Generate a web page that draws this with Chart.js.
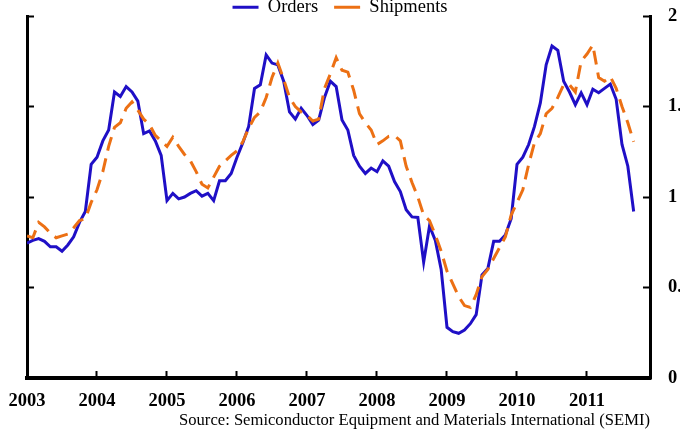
<!DOCTYPE html>
<html>
<head>
<meta charset="utf-8">
<script src="https://cdn.jsdelivr.net/npm/chart.js@4.4.1/dist/chart.umd.min.js"></script>
<style>
  html, body { margin: 0; padding: 0; background: #fff; }
  canvas { display: block; }
</style>
</head>
<body>
<canvas id="semi-chart" width="680" height="433"></canvas>
<script>
// monthly values, starting January 2003
const startYear = 2003;
const orders = [
  0.745, 0.76, 0.77, 0.755, 0.725, 0.725, 0.70, 0.735, 0.78, 0.86, 0.92, 1.18,
  1.22, 1.31, 1.37, 1.58, 1.555, 1.61, 1.58, 1.53, 1.35, 1.365, 1.31, 1.23,
  0.98, 1.02, 0.99, 1.0, 1.02, 1.035, 1.005, 1.02, 0.98, 1.09, 1.09, 1.13,
  1.22, 1.30, 1.39, 1.60, 1.62, 1.785, 1.74, 1.73, 1.64, 1.47, 1.43, 1.49,
  1.45, 1.40, 1.425, 1.55, 1.64, 1.61, 1.425, 1.37, 1.23, 1.17, 1.13, 1.16,
  1.14, 1.20, 1.17, 1.085, 1.03, 0.93, 0.89, 0.887, 0.64, 0.84, 0.76, 0.60,
  0.28, 0.256, 0.247, 0.265, 0.30, 0.35, 0.57, 0.605, 0.755, 0.755, 0.79, 0.88,
  1.18, 1.22, 1.29, 1.39, 1.52, 1.73, 1.834, 1.81, 1.64, 1.58, 1.51, 1.575,
  1.51, 1.595, 1.576, 1.60, 1.624, 1.54, 1.29, 1.17, 0.92
];
const shipments = [
  0.785, 0.775, 0.86, 0.835, 0.80, 0.775, 0.785, 0.795, 0.83, 0.87, 0.88, 0.97,
  1.04, 1.14, 1.28, 1.385, 1.41, 1.49, 1.525, 1.48, 1.43, 1.40, 1.34, 1.31,
  1.28, 1.33, 1.28, 1.235, 1.20, 1.14, 1.07, 1.05, 1.11, 1.17, 1.20, 1.23,
  1.255, 1.305, 1.38, 1.44, 1.47, 1.55, 1.66, 1.74, 1.65, 1.55, 1.50, 1.47,
  1.45, 1.42, 1.43, 1.60, 1.68, 1.77, 1.70, 1.69, 1.59, 1.46, 1.41, 1.37,
  1.29, 1.31, 1.335, 1.34, 1.31, 1.17, 1.08, 1.00, 0.90, 0.87, 0.79, 0.70,
  0.59, 0.52, 0.45, 0.40, 0.39, 0.46, 0.56, 0.60, 0.66, 0.72, 0.78, 0.90,
  0.97, 1.04, 1.18, 1.30, 1.35, 1.46, 1.49, 1.55, 1.62, 1.62, 1.58, 1.75,
  1.79, 1.84, 1.66, 1.64, 1.665, 1.60, 1.50, 1.41, 1.305
];
const yTicks = [0, 0.5, 1, 1.5, 2];
const sourceNote = "Source: Semiconductor Equipment and Materials International (SEMI)";

const toPoints = arr => arr.map((v, i) => ({x: startYear + i / 12, y: v}));

Chart.defaults.font.family = "'Liberation Serif', 'Times New Roman', serif";
Chart.defaults.color = "#000";

const axisGrid = {
  drawOnChartArea: false,
  drawTicks: true,
  tickLength: -7,
  tickWidth: 2,
  tickColor: "#000"
};

// fixed axis sizes, no extra room for overhanging labels
const fixSize = (w, h) => s => {
  if (w !== null) s.width = w;
  if (h !== null) s.height = h;
  s.paddingTop = 0; s.paddingBottom = 0;
  s.paddingLeft = 0; s.paddingRight = 0;
};

// the legend sits partly above the top edge of the picture
const legendLift = {
  id: "legendLift",
  afterLayout(chart) {
    chart.legend.top -= 18;
    chart.legend.bottom += 4;
  }
};

new Chart("semi-chart", {
  type: "line",
  data: {
    datasets: [{
      label: "Orders",
      data: toPoints(orders),
      borderColor: "#1f0fc6",
      backgroundColor: "#1f0fc6",
      borderWidth: 3,
      pointRadius: 0,
      tension: 0,
      order: 1
    }, {
      label: "Shipments",
      data: toPoints(shipments),
      borderColor: "#ec7014",
      backgroundColor: "#ec7014",
      borderWidth: 3,
      borderDash: [14, 8],
      pointRadius: 0,
      tension: 0,
      order: 0
    }]
  },
  plugins: [legendLift],
  options: {
    responsive: false,
    animation: false,
    devicePixelRatio: 1,
    layout: {padding: 0},
    plugins: {
      tooltip: {enabled: false},
      legend: {
        position: "top",
        maxHeight: 16,
        labels: {
          font: {size: 18.5},
          padding: 16,
          usePointStyle: true,
          pointStyle: "line",
          pointStyleWidth: 26,
          sort: (a, b) => a.datasetIndex - b.datasetIndex,
          generateLabels: chart =>
            Chart.defaults.plugins.legend.labels.generateLabels(chart)
              .map(l => Object.assign(l, {lineDash: [], lineWidth: 3}))
        }
      },
      subtitle: {
        display: true,
        text: sourceNote,
        position: "bottom",
        align: "end",
        fullSize: false,
        font: {size: 16.6, lineHeight: "20px"},
        padding: {top: 2, bottom: 2}
      }
    },
    scales: {
      x: {
        type: "linear",
        min: 2003,
        max: 2011.9,
        afterFit: fixSize(null, 31),
        border: {display: true, color: "#000", width: 4},
        grid: axisGrid,
        ticks: {
          stepSize: 1,
          includeBounds: false,
          autoSkip: false,
          maxRotation: 0,
          padding: 19.5,
          font: {size: 18.5, weight: "bold"},
          callback: v => String(v)
        }
      },
      y: {
        position: "left",
        min: 0,
        max: 2,
        afterFit: fixSize(27, null),
        border: {display: true, color: "#000", width: 3},
        grid: axisGrid,
        ticks: {stepSize: 0.5, display: false}
      },
      y2: {
        position: "right",
        display: true,
        min: 0,
        max: 2,
        afterFit: fixSize(30, null),
        afterBuildTicks: s => { s.ticks = yTicks.map(v => ({value: v})); },
        border: {display: true, color: "#000", width: 3},
        grid: axisGrid,
        ticks: {
          padding: 25,
          font: {size: 18.5, weight: "bold"},
          callback: v => String(v)
        }
      }
    }
  }
});
</script>
</body>
</html>
